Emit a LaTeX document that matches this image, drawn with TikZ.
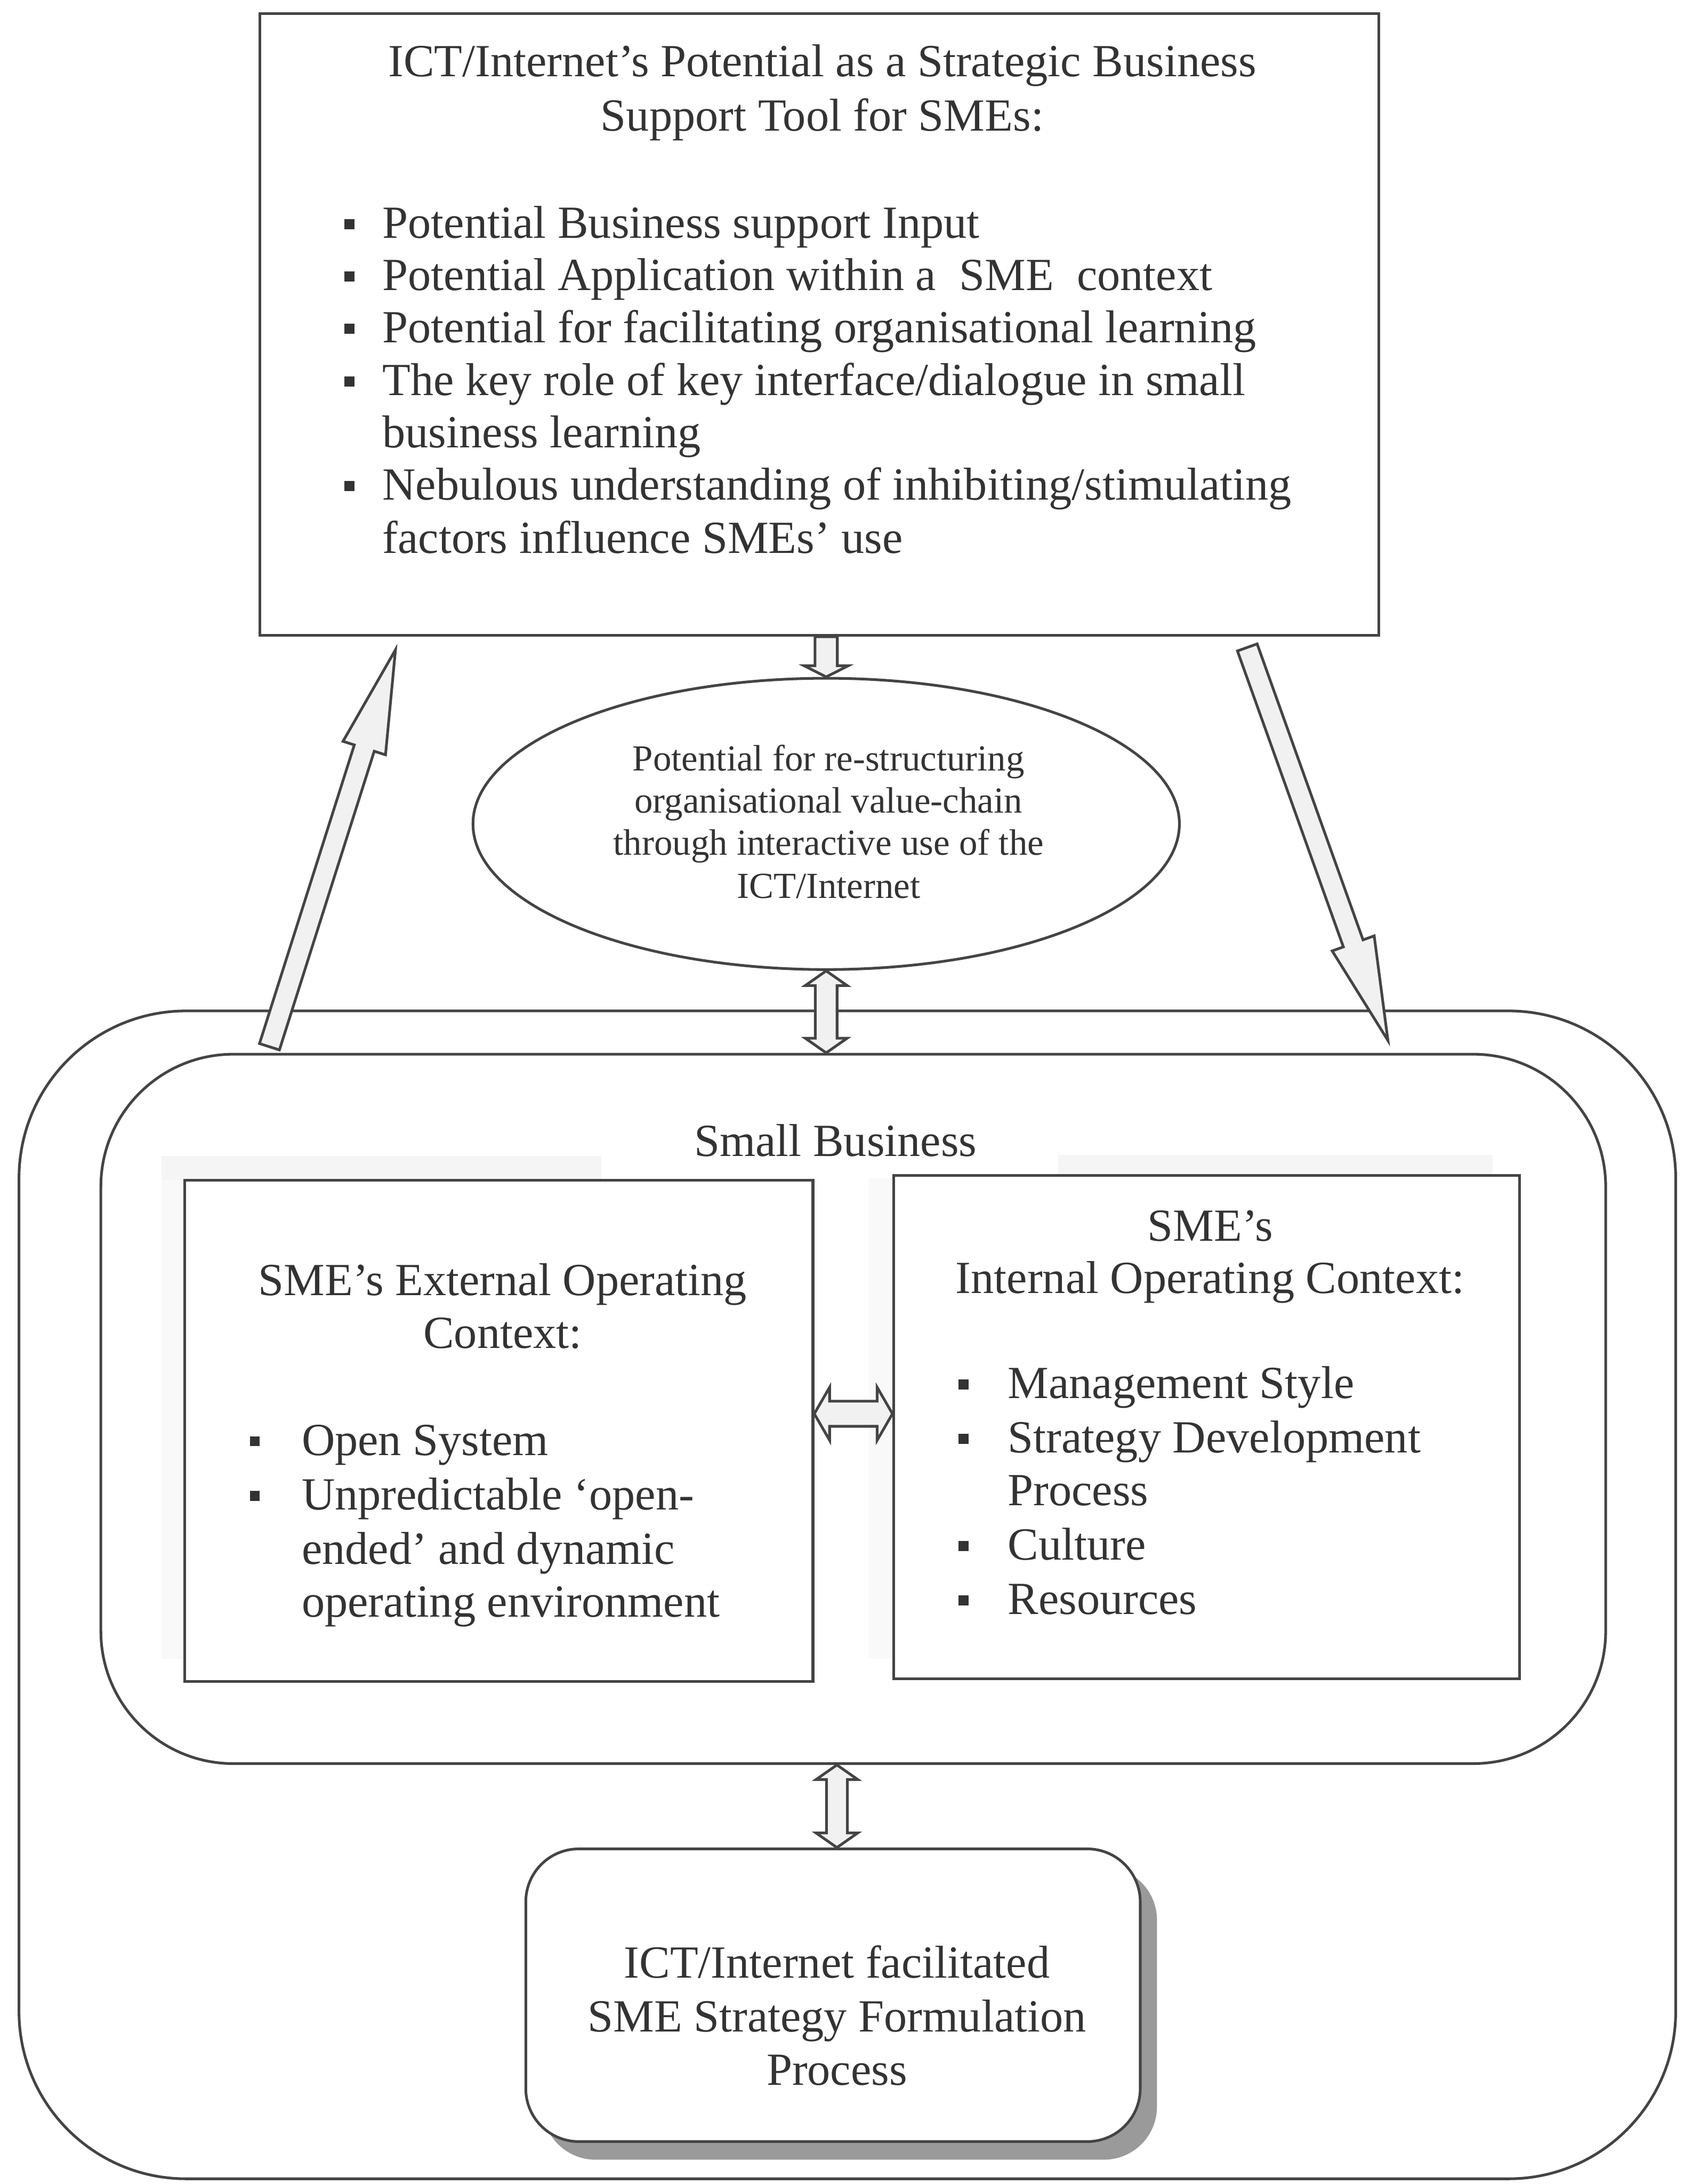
\documentclass[tikz,border=0pt]{standalone}
\usepackage{fontspec}
\setmainfont{Liberation Serif}
\usetikzlibrary{calc,shapes.geometric,shadows}

\definecolor{linecol}{HTML}{444444}
\definecolor{textcol}{HTML}{333333}
\definecolor{arrowfill}{HTML}{F1F1F1}
\definecolor{shadowcol}{HTML}{9A9A9A}

% hollow block arrow: #1 tail, #2 tip, #3 half shaft width, #4 half head width, #5 head length
\newcommand\blockarrow[5]{%
  \coordinate (ba-t) at (#1);
  \coordinate (ba-p) at (#2);
  \coordinate (ba-h) at ($(ba-p)!#5!(ba-t)$);
  \draw[arrowbody] ($(ba-t)!#3!90:(ba-p)$) -- ($(ba-h)!#3!90:(ba-p)$)
    -- ($(ba-h)!#4!90:(ba-p)$) -- (ba-p) -- ($(ba-h)!#4!-90:(ba-p)$)
    -- ($(ba-h)!#3!-90:(ba-p)$) -- ($(ba-t)!#3!-90:(ba-p)$) -- cycle;
}
% hollow block arrow with a head at both ends
\newcommand\twinarrow[5]{%
  \coordinate (ta-a) at (#1);
  \coordinate (ta-b) at (#2);
  \coordinate (ta-ha) at ($(ta-a)!#5!(ta-b)$);
  \coordinate (ta-hb) at ($(ta-b)!#5!(ta-a)$);
  \draw[arrowbody] (ta-a) -- ($(ta-ha)!#4!90:(ta-b)$) -- ($(ta-ha)!#3!90:(ta-b)$)
    -- ($(ta-hb)!#3!90:(ta-b)$) -- ($(ta-hb)!#4!90:(ta-b)$) -- (ta-b)
    -- ($(ta-hb)!#4!-90:(ta-b)$) -- ($(ta-hb)!#3!-90:(ta-b)$)
    -- ($(ta-ha)!#3!-90:(ta-b)$) -- ($(ta-ha)!#4!-90:(ta-b)$) -- cycle;
}

\tikzset{
  box/.style={draw=linecol, line width=0.55pt, inner sep=0pt},
  txt/.style={inner sep=0pt, text=textcol, font=\fontsize{9.4}{10.7}\selectfont},
  smalltxt/.style={inner sep=0pt, text=textcol, font=\fontsize{7.5}{8.6}\selectfont},
  bul/.style={fill=textcol, draw=none, minimum size=0.072cm, inner sep=0pt},
  arrowbody/.style={draw=linecol, fill=arrowfill, line width=0.55pt, line join=miter},
  haze/.style={fill=black!4, draw=none},
  lighthaze/.style={fill=black!2.5, draw=none},
}

\begin{document}
\begin{tikzpicture}[x=0.01cm,y=-0.01cm]
\useasboundingbox (0,0) rectangle (1209,1568);
\fill[white] (0,0) rectangle (1209,1568);

% ---------- top box ----------
\node[box, minimum width=8.03cm, minimum height=4.46cm] (top) at (588.5,233) {};
\node[txt, anchor=base] (title1) at (590.5,55) {ICT/Internet’s Potential as a Strategic Business};
\node[txt, anchor=base] (title2) at (590.5,94) {Support Tool for SMEs:};

\node[txt, anchor=base west] (tb1) at (274,171) {Potential Business support Input};
\node[txt, anchor=base west] (tb2) at (274,208.5) {Potential Application within a\ \ SME\ \ context};
\node[txt, anchor=base west] (tb3) at (274,246) {Potential for facilitating organisational learning};
\node[txt, anchor=base west] (tb4) at (274,284) {The key role of key interface/dialogue in small};
\node[txt, anchor=base west] (tb5) at (274,321.5) {business learning};
\node[txt, anchor=base west] (tb6) at (274,359) {Nebulous understanding of inhibiting/stimulating};
\node[txt, anchor=base west] (tb7) at (274,397) {factors influence SMEs’ use};
\node[bul] (tbb1) at (251,161) {};
\node[bul] (tbb2) at (251,198.5) {};
\node[bul] (tbb3) at (251,236) {};
\node[bul] (tbb4) at (251,274) {};
\node[bul] (tbb6) at (251,349) {};

% ---------- ellipse ----------
\node[box, ellipse, minimum width=5.07cm, minimum height=2.09cm] (ell) at (593.3,591.5) {};
\node[smalltxt, anchor=base] (e1) at (595,553.5) {Potential for re-structuring};
\node[smalltxt, anchor=base] (e2) at (595,583.6) {organisational value-chain};
\node[smalltxt, anchor=base] (e3) at (595,613.8) {through interactive use of the};
\node[smalltxt, anchor=base] (e4) at (595,644.7) {ICT/Internet};

% ---------- small business frames ----------
\node[box, rounded corners=1.2cm, minimum width=11.89cm, minimum height=8.38cm] (outer) at (608.5,1145) {};
\node[box, rounded corners=0.95cm, minimum width=10.80cm, minimum height=5.09cm] (inner) at (612.75,1011.5) {};
\node[txt, anchor=base] (sb) at (600,830) {Small Business};

% faint shading along the upper and left edges of the two context boxes
\fill[haze] (116,830) rectangle (432,847);
\fill[lighthaze] (116,847) rectangle (132,1191);
\fill[haze] (760,829) rectangle (1072,844);
\fill[lighthaze] (624,846) rectangle (641,1191);

% ---------- external context ----------
\node[box, minimum width=4.51cm, minimum height=3.596cm] (ext) at (358.15,1027.2) {};
\node[txt, anchor=base] (x1) at (361,930) {SME’s External Operating};
\node[txt, anchor=base] (x2) at (361,968) {Context:};
\node[txt, anchor=base west] (xb1) at (216,1044.7) {Open System};
\node[txt, anchor=base west] (xb2) at (216,1084) {Unpredictable ‘open-};
\node[txt, anchor=base west] (xb3) at (216,1123) {ended’ and dynamic};
\node[txt, anchor=base west] (xb4) at (216,1161) {operating environment};
\node[bul] (xbb1) at (183,1034.7) {};
\node[bul] (xbb2) at (183,1074) {};

% ---------- internal context ----------
\node[box, minimum width=4.49cm, minimum height=3.61cm] (int) at (866.5,1024.5) {};
\node[txt, anchor=base] (i1) at (869,891) {SME’s};
\node[txt, anchor=base] (i2) at (869,928.6) {Internal Operating Context:};
\node[txt, anchor=base west] (ib1) at (723,1003.8) {Management Style};
\node[txt, anchor=base west] (ib2) at (723,1043) {Strategy Development};
\node[txt, anchor=base west] (ib3) at (723,1081) {Process};
\node[txt, anchor=base west] (ib4) at (723,1120) {Culture};
\node[txt, anchor=base west] (ib5) at (723,1159) {Resources};
\node[bul] (ibb1) at (692,993.8) {};
\node[bul] (ibb2) at (692,1033) {};
\node[bul] (ibb4) at (692,1110) {};
\node[bul] (ibb5) at (692,1149) {};

% ---------- strategy formulation box ----------
\node[box, fill=white, rounded corners=0.38cm, minimum width=4.41cm, minimum height=2.10cm,
      drop shadow={shadow xshift=0.12cm, shadow yshift=-0.13cm, fill=shadowcol, opacity=1}]
      (bot) at (598.2,1432.45) {};
\node[txt, anchor=base] (s1) at (601,1420) {ICT/Internet facilitated};
\node[txt, anchor=base] (s2) at (601,1458.5) {SME Strategy Formulation};
\node[txt, anchor=base] (s3) at (601,1497) {Process};

% ---------- block arrows ----------
\coordinate (da-s) at (top.south -| ell.north);
\coordinate (da-e) at (ell.north);
\blockarrow{da-s}{da-e}{0.08cm}{0.158cm}{0.08cm}

\coordinate (la-s) at (193.5,751.5);
\coordinate (la-e) at (284,466.5);
\blockarrow{la-s}{la-e}{0.075cm}{0.16cm}{0.74cm}

\coordinate (ra-s) at (895.7,464.8);
\coordinate (ra-e) at (996.7,747);
\blockarrow{ra-s}{ra-e}{0.075cm}{0.16cm}{0.74cm}

\coordinate (va-s) at (ell.south);
\coordinate (va-e) at (ell.south |- inner.north);
\twinarrow{va-s}{va-e}{0.078cm}{0.15cm}{0.105cm}

\coordinate (ha-s) at (ext.east |- 0,1015);
\coordinate (ha-e) at (int.west |- 0,1015);
\twinarrow{ha-s}{ha-e}{0.09cm}{0.19cm}{0.11cm}

\coordinate (ba-s) at (601,0 |- inner.south);
\coordinate (ba-e) at (601,0 |- bot.north);
\twinarrow{ba-s}{ba-e}{0.075cm}{0.15cm}{0.105cm}
\end{tikzpicture}
\end{document}
